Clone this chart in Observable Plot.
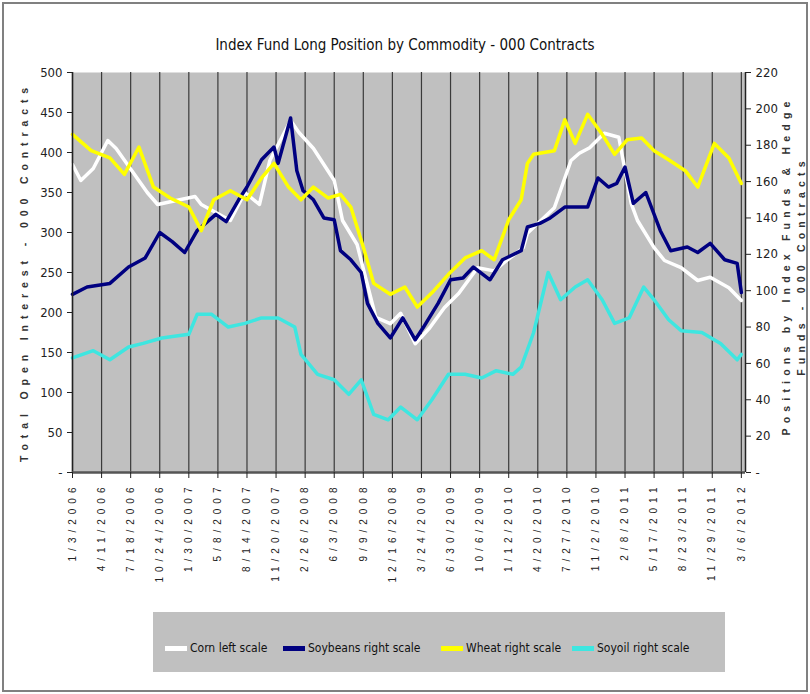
<!DOCTYPE html>
<html>
<head>
<meta charset="utf-8">
<script src="https://cdn.jsdelivr.net/npm/d3@7"></script>
<script src="https://cdn.jsdelivr.net/npm/@observablehq/plot@0.6"></script>
<style>
  html, body { margin: 0; padding: 0; background: #fff; }
  #wrap { position: relative; width: 810px; height: 694px; overflow: hidden; background: #fff; }
  #frame { position: absolute; left: 2px; top: 2px; width: 802px; height: 686px; border: 2px solid #808080; pointer-events: none; }
  #chart { position: absolute; left: 0; top: 0; }
  .narrow { font-family: "Liberation Sans Narrow", "Arial Narrow", "DejaVu Sans Condensed", sans-serif; }
  #title { position: absolute; left: 0; top: 36px; width: 810px; text-align: center; font-size: 15px; color: #111; }
  .vt { position: absolute; white-space: nowrap; font-family: "Liberation Sans", Arial, sans-serif; font-weight: bold; font-size: 10.5px; letter-spacing: 5.2px; color: #333; transform: translate(-50%, -50%) rotate(-90deg); line-height: 15px; text-align: center; }
  #legend { position: absolute; left: 153px; top: 612px; width: 572px; height: 60px; background: #c0c0c0; }
  .li { position: absolute; top: 28px; height: 16px; display: flex; align-items: center; font-size: 12px; color: #111; white-space: nowrap; }
  .sw { width: 22px; height: 5px; margin-right: 3px; }
  g[aria-label="x-axis tick label"] { letter-spacing: 5px; }
</style>
</head>
<body>
<div id="wrap">
  <div id="chart"></div>
  <div id="title" class="narrow">Index Fund Long Position by Commodity - 000 Contracts</div>
  <div class="vt" style="left:24px; top:272px; letter-spacing:5.9px;">Total Open Interest - 000 Contracts</div>
  <div class="vt" style="left:794px; top:266px;">Positions by Index Funds &amp; Hedge<br>Funds - 000 Contracts</div>
  <div id="legend" class="narrow"></div>
  <div id="frame"></div>
</div>
<script>
// ---- Data (weeks since first date; values in '000 contracts) ----
const tickLabels = ["1/3/2006","4/11/2006","7/18/2006","10/24/2006","1/30/2007","5/8/2007","8/14/2007","11/20/2007",
  "2/26/2008","6/3/2008","9/9/2008","12/16/2008","3/24/2009","6/30/2009","10/6/2009","1/12/2010",
  "4/20/2010","7/27/2010","11/2/2010","2/8/2011","5/17/2011","8/23/2011","11/29/2011","3/6/2012"];
const leftTicks = [0, 50, 100, 150, 200, 250, 300, 350, 400, 450, 500];
const rightTicks = [0, 20, 40, 60, 80, 100, 120, 140, 160, 180, 200, 220];

const seriesNames = ["Corn left scale", "Soybeans right scale", "Wheat right scale", "Soyoil right scale"];
const seriesColors = ["#ffffff", "#000080", "#ffff00", "#3ee6e0"];

const cornWeeks = [0,4,10,17,21,36,41,59,62,76,83,90,95,105,109,116,121,126,130,137,146,153,158,165,172,179,186,195,203,209,217,219,232,240,244,249,256,263,269,272,280,285,293,301,307,316,322];
const cornVals  = [385,365,380,415,405,350,335,345,335,315,350,335,390,440,425,405,385,365,315,285,194,186,199,161,181,206,224,256,252,265,281,299,331,390,399,406,424,419,336,315,281,265,256,240,244,231,215];

const soyWeeks = [0,7,18,27,35,42,48,54,60,69,74,80,84,91,97,99,105,108,111,116,121,126,129,134,139,142,147,153,159,165,169,176,182,188,193,201,207,216,219,225,230,237,248,253,258,262,266,270,276,283,288,296,301,307,314,320,322];
const soyVals  = [98,102,104,113,118,132,127,121,133,142,138,150,157,172,179,170,195,166,155,150,140,139,122,117,110,93,82,74,85,73,80,93,106,107,113,106,117,122,135,137,140,146,146,162,157,159,168,148,154,133,122,124,121,126,117,115,99];

const wheatWeeks = [0,9,18,25,32,39,47,56,62,68,76,84,91,97,104,110,116,123,129,134,140,145,153,160,166,174,181,189,197,203,210,216,219,222,232,237,242,248,255,261,267,274,280,287,295,301,309,316,322];
const wheatVals  = [186,177,173,164,179,157,151,146,133,150,155,150,162,170,157,150,157,151,153,146,124,104,98,102,91,100,109,118,122,117,139,150,170,175,177,194,181,197,186,175,183,184,177,172,166,157,181,173,159];

const oilWeeks = [0,10,18,27,34,43,56,60,67,75,83,91,99,107,110,118,126,133,139,145,152,158,166,173,181,189,197,204,212,216,222,229,235,242,248,255,261,268,275,280,287,293,303,312,320,322];
const oilVals  = [63,67,62,69,71,74,76,87,87,80,82,85,85,80,65,54,51,43,51,32,29,36,29,40,54,54,52,56,54,58,77,110,95,102,106,95,82,85,102,95,84,78,77,71,62,65];

// ---- Build ----
const K = 500 / 220; // right-scale -> left-scale factor
const tickWeeks = tickLabels.map((_, i) => i * 14);
const labelOf = new Map(tickWeeks.map((w, i) => [w, tickLabels[i]]));
const mk = (weeks, vals, scale) => weeks.map((w, i) => ({w, v: vals[i] * scale}));

const corn = mk(cornWeeks, cornVals, 1);
const soy = mk(soyWeeks, soyVals, K);
const wheat = mk(wheatWeeks, wheatVals, K);
const oil = mk(oilWeeks, oilVals, K);

const narrow = '"Liberation Sans Narrow", "Arial Narrow", "DejaVu Sans Condensed", sans-serif';

const plot = Plot.plot({
  width: 810,
  height: 694,
  marginLeft: 72,
  marginRight: 65,
  marginTop: 72,
  marginBottom: 222,
  style: {background: "transparent", fontFamily: narrow, fontSize: "13px", color: "#222"},
  x: {domain: [0, 324]},
  y: {domain: [0, 500]},
  marks: [
    Plot.frame({fill: "#c0c0c0", stroke: null}),
    Plot.ruleX(tickWeeks, {stroke: "#3a3a3a", strokeWidth: 1.2}),
    Plot.line(corn, {x: "w", y: "v", stroke: seriesColors[0], strokeWidth: 3.5}),
    Plot.line(soy, {x: "w", y: "v", stroke: seriesColors[1], strokeWidth: 3.5}),
    Plot.line(wheat, {x: "w", y: "v", stroke: seriesColors[2], strokeWidth: 3.5}),
    Plot.line(oil, {x: "w", y: "v", stroke: seriesColors[3], strokeWidth: 3.5}),
    Plot.ruleX([0], {stroke: "#222", strokeWidth: 1.5}),
    Plot.ruleX([324], {stroke: "#222", strokeWidth: 1.5}),
    Plot.ruleY([0], {stroke: "#555", strokeWidth: 2.5}),
    Plot.axisY(leftTicks, {anchor: "left", tickSize: 5, tickPadding: 5, label: null,
      tickFormat: d => d === 0 ? "-" : String(d), fontSize: 13, fontFamily: narrow}),
    Plot.axisY(rightTicks.map(v => v * K), {anchor: "right", tickSize: 5, tickPadding: 5, label: null,
      tickFormat: d => { const r = Math.round(d / K); return r === 0 ? "-" : String(r); }, fontSize: 13, fontFamily: narrow}),
    Plot.axisX(tickWeeks, {anchor: "bottom", tickSize: 6, tickPadding: 4, tickRotate: -90, label: null,
      tickFormat: d => labelOf.get(d), fontSize: 10, fontFamily: '"Liberation Sans", Arial, sans-serif'})
  ]
});
document.getElementById("chart").appendChild(plot);

// ---- Legend ----
const legend = document.getElementById("legend");
const lx = [12, 130, 288, 419];
seriesNames.forEach((name, i) => {
  const item = document.createElement("div");
  item.className = "li";
  item.style.left = lx[i] + "px";
  const sw = document.createElement("div");
  sw.className = "sw";
  sw.style.background = seriesColors[i];
  const tx = document.createElement("span");
  tx.textContent = name;
  item.appendChild(sw);
  item.appendChild(tx);
  legend.appendChild(item);
});
</script>
</body>
</html>
